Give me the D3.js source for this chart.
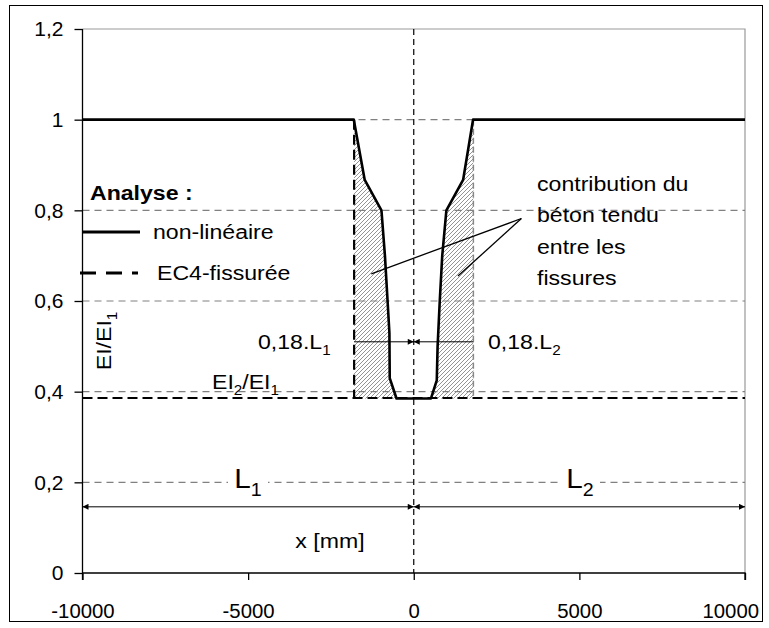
<!DOCTYPE html>
<html><head><meta charset="utf-8">
<script src="https://cdn.jsdelivr.net/npm/d3@7"></script>
<style>body{margin:0;background:#fff}svg{display:block}text{font-family:"Liberation Sans",Arial,sans-serif;fill:#000}</style>
</head><body><div id="c"></div>
<script>
// ---- data ----
const xTicks = [-10000, -5000, 0, 5000, 10000];
const xTickLabels = ["-10000", "-5000", "0", "5000", "10000"];
const yTicks = [0, 0.2, 0.4, 0.6, 0.8, 1, 1.2];
const yTickLabels = ["0", "0,2", "0,4", "0,6", "0,8", "1", "1,2"];
const gridY = [0.2, 0.4, 0.6, 0.8, 1];
const EI2 = 0.386;
const crackZone = 1800; // 0.18.L
const nonLinX = [-10000, -1810, -1480, -975, -870, -790, -735, -725, -520, 520, 695, 720, 785, 860, 985, 1490, 1790, 10000];
const nonLinY = [1, 1, 0.867, 0.80, 0.70, 0.60, 0.53, 0.43, 0.385, 0.385, 0.425, 0.50, 0.60, 0.70, 0.80, 0.867, 1, 1];
const ec4X = [-10000, 10000];
const ec4Y = [EI2, EI2];

// ---- layout ----
const W = 769, H = 628;
const svg = d3.select("#c").append("svg").attr("width", W).attr("height", H);
const x = d3.scaleLinear().domain([-10000, 10000]).range([82.5, 745]);
const y = d3.scaleLinear().domain([0, 1.2]).range([573, 29]);
const SX = 1.1;

const defs = svg.append("defs");
const pat = defs.append("pattern").attr("id", "hatch").attr("patternUnits", "userSpaceOnUse")
  .attr("width", 4).attr("height", 4);
pat.append("path").attr("d", "M-1,1 l2,-2 M0,4 l4,-4 M3,5 l2,-2")
  .attr("stroke", "#888").attr("stroke-width", 0.9);
defs.append("marker").attr("id", "arr").attr("viewBox", "0 0 10 10").attr("refX", 10).attr("refY", 5)
  .attr("markerWidth", 8).attr("markerHeight", 6).attr("markerUnits", "userSpaceOnUse").attr("orient", "auto-start-reverse")
  .append("path").attr("d", "M0,0 L10,5 L0,10 z").attr("fill", "#000");

function label(g, px, py, parts, o = {}) {
  const size = o.size || 21;
  const t = g.append("text")
    .attr("transform", `translate(${px},${py}) rotate(${o.rotate || 0}) scale(${o.sx || SX},1)`)
    .attr("text-anchor", o.anchor || "start")
    .style("font-size", size + "px")
    .style("font-weight", o.weight || "normal");
  const d = size * 0.28;
  let pending = 0;
  parts.forEach(p => {
    if (typeof p === "string") {
      const ts = t.append("tspan").text(p);
      if (pending) { ts.attr("dy", pending); pending = 0; }
    } else {
      t.append("tspan").style("font-size", (size * 0.66) + "px").attr("dy", d).text(p.sub);
      pending = -d;
    }
  });
  return t;
}

// outer border
svg.append("rect").attr("x", 9.5).attr("y", 5.5).attr("width", 753).attr("height", 616)
  .attr("fill", "#fff").attr("stroke", "#000").attr("stroke-width", 1);

// plot area border (top/right)
svg.append("path").attr("d", `M${x(-10000)},${y(1.2)}H${x(10000)}V${y(0)}`)
  .attr("fill", "none").attr("stroke", "#999").attr("stroke-width", 1.2);

// grid lines
svg.append("g").selectAll("line").data(gridY).join("line")
  .attr("x1", x(-10000)).attr("x2", x(10000)).attr("y1", d => y(d)).attr("y2", d => y(d))
  .attr("stroke", "#808080").attr("stroke-width", 1.2).attr("stroke-dasharray", "7,5");

// hatched regions
const pts = nonLinX.map((v, i) => [v, nonLinY[i]]);
const leftCurve = pts.filter(p => p[0] >= -crackZone && p[0] < 0);
const rightCurve = pts.filter(p => p[0] > 0 && p[0] <= crackZone);
const leftPoly = [[-crackZone, 1], ...leftCurve, [-crackZone, leftCurve[leftCurve.length - 1][1]]];
const rightPoly = [[crackZone, 1], ...rightCurve.slice().reverse(), [crackZone, rightCurve[0][1]]];
const polyLine = d3.line().x(d => x(d[0])).y(d => y(d[1]));
[leftPoly, rightPoly].forEach(pl => {
  svg.append("path").attr("d", polyLine(pl) + "Z").attr("fill", "url(#hatch)");
});

// vertical dashed at x=0
svg.append("line").attr("x1", x(0)).attr("x2", x(0)).attr("y1", y(1.2)).attr("y2", y(0))
  .attr("stroke", "#000").attr("stroke-width", 1.2).attr("stroke-dasharray", "6,4");

// EC4 cracked (dashed)
svg.append("path").attr("d", polyLine(ec4X.map((v, i) => [v, ec4Y[i]])))
  .attr("fill", "none").attr("stroke", "#000").attr("stroke-width", 2.2).attr("stroke-dasharray", "10,5");
svg.append("line").attr("x1", x(-crackZone)).attr("x2", x(-crackZone)).attr("y1", y(1)).attr("y2", y(EI2))
  .attr("stroke", "#000").attr("stroke-width", 2.2).attr("stroke-dasharray", "10,5");
svg.append("line").attr("x1", x(crackZone)).attr("x2", x(crackZone)).attr("y1", y(1)).attr("y2", y(EI2))
  .attr("stroke", "#888").attr("stroke-width", 1.5).attr("stroke-dasharray", "6,3");

// non-linear (solid)
svg.append("path").attr("d", polyLine(pts)).attr("fill", "none").attr("stroke", "#000")
  .attr("stroke-width", 2.6).attr("stroke-linejoin", "round");

// axes
const gx = svg.append("g").attr("transform", `translate(0,${y(0)})`)
  .call(d3.axisBottom(x).tickValues(xTicks).tickSize(7).tickPadding(23).tickFormat((d, i) => xTickLabels[i]));
const gy = svg.append("g").attr("transform", `translate(${x(-10000)},0)`)
  .call(d3.axisLeft(y).tickValues(yTicks).tickSize(8).tickPadding(11).tickFormat((d, i) => yTickLabels[i]));
[gx, gy].forEach(g => {
  g.select(".domain").attr("stroke", "#000").attr("stroke-width", 1.3);
  g.selectAll(".tick line").attr("stroke", "#000").attr("stroke-width", 1.3);
  g.selectAll("text").style("font-size", "21px").style("font-family", '"Liberation Sans",Arial,sans-serif').attr("fill", "#000");
});
gy.select(".domain").attr("d", `M0,${y(1.2)}V${y(0) + 7}`);
gx.select(".domain").attr("d", `M${x(-10000)},0H${x(10000)}V7`);
gx.selectAll(".tick text").attr("transform", "scale(0.97,1)");
// keep the last label inside the chart frame
gx.selectAll(".tick text").filter((d, i) => i === xTicks.length - 1)
  .attr("text-anchor", "end").attr("x", 14);

// legend
const lg = svg.append("g");
label(lg, 90, 200, ["Analyse :"], { weight: "bold" });
lg.append("line").attr("x1", 82).attr("x2", 140).attr("y1", 232).attr("y2", 232)
  .attr("stroke", "#000").attr("stroke-width", 3);
label(lg, 153, 239, ["non-linéaire"]);
lg.append("line").attr("x1", 80).attr("x2", 138).attr("y1", 273).attr("y2", 273)
  .attr("stroke", "#000").attr("stroke-width", 3).attr("stroke-dasharray", "16,10");
label(lg, 157, 280, ["EC4-fissurée"]);

// y-axis title
label(svg, 111, 341, ["EI/EI", { sub: "1" }], { rotate: -90, anchor: "middle" });

// EI2/EI1
label(svg, 212, 389, ["EI", { sub: "2" }, "/EI", { sub: "1" }]);

// 0.18 L dimension arrows
const yDim = 0.51;
svg.append("line").attr("x1", x(-crackZone)).attr("x2", x(0)).attr("y1", y(yDim)).attr("y2", y(yDim))
  .attr("stroke", "#000").attr("stroke-width", 1).attr("marker-end", "url(#arr)");
svg.append("line").attr("x1", x(crackZone)).attr("x2", x(0)).attr("y1", y(yDim)).attr("y2", y(yDim))
  .attr("stroke", "#000").attr("stroke-width", 1).attr("marker-end", "url(#arr)");
label(svg, 258, 349, ["0,18.L", { sub: "1" }]);
label(svg, 488, 349, ["0,18.L", { sub: "2" }]);

// contribution annotation
const ann = [3250, 0.782];
const annTargets = [[-1280, 0.66], [1335, 0.655]];
annTargets.forEach(t => {
  svg.append("line").attr("x1", x(ann[0])).attr("y1", y(ann[1])).attr("x2", x(t[0])).attr("y2", y(t[1]))
    .attr("stroke", "#000").attr("stroke-width", 1.3);
});
["contribution du", "béton tendu", "entre les", "fissures"].forEach((s, i) => {
  label(svg, 537, 191 + i * 31.3, [s]);
});

// L1 / L2 spans
const ySpan = 0.146;
svg.append("line").attr("x1", x(-10000)).attr("x2", x(0)).attr("y1", y(ySpan)).attr("y2", y(ySpan))
  .attr("stroke", "#000").attr("stroke-width", 1).attr("marker-start", "url(#arr)").attr("marker-end", "url(#arr)");
svg.append("line").attr("x1", x(0)).attr("x2", x(10000)).attr("y1", y(ySpan)).attr("y2", y(ySpan))
  .attr("stroke", "#000").attr("stroke-width", 1).attr("marker-start", "url(#arr)").attr("marker-end", "url(#arr)");
[[-5000, "1", 248], [5000, "2", 580]].forEach(([v, s, cx]) => {
  svg.append("rect").attr("x", cx - 20).attr("y", y(0.2) - 5).attr("width", 40).attr("height", 10).attr("fill", "#fff");
  label(svg, cx, 488, ["L", { sub: s }], { size: 27, anchor: "middle" });
});
label(svg, 330, 548, ["x [mm]"], { anchor: "middle" });
</script></body></html>
